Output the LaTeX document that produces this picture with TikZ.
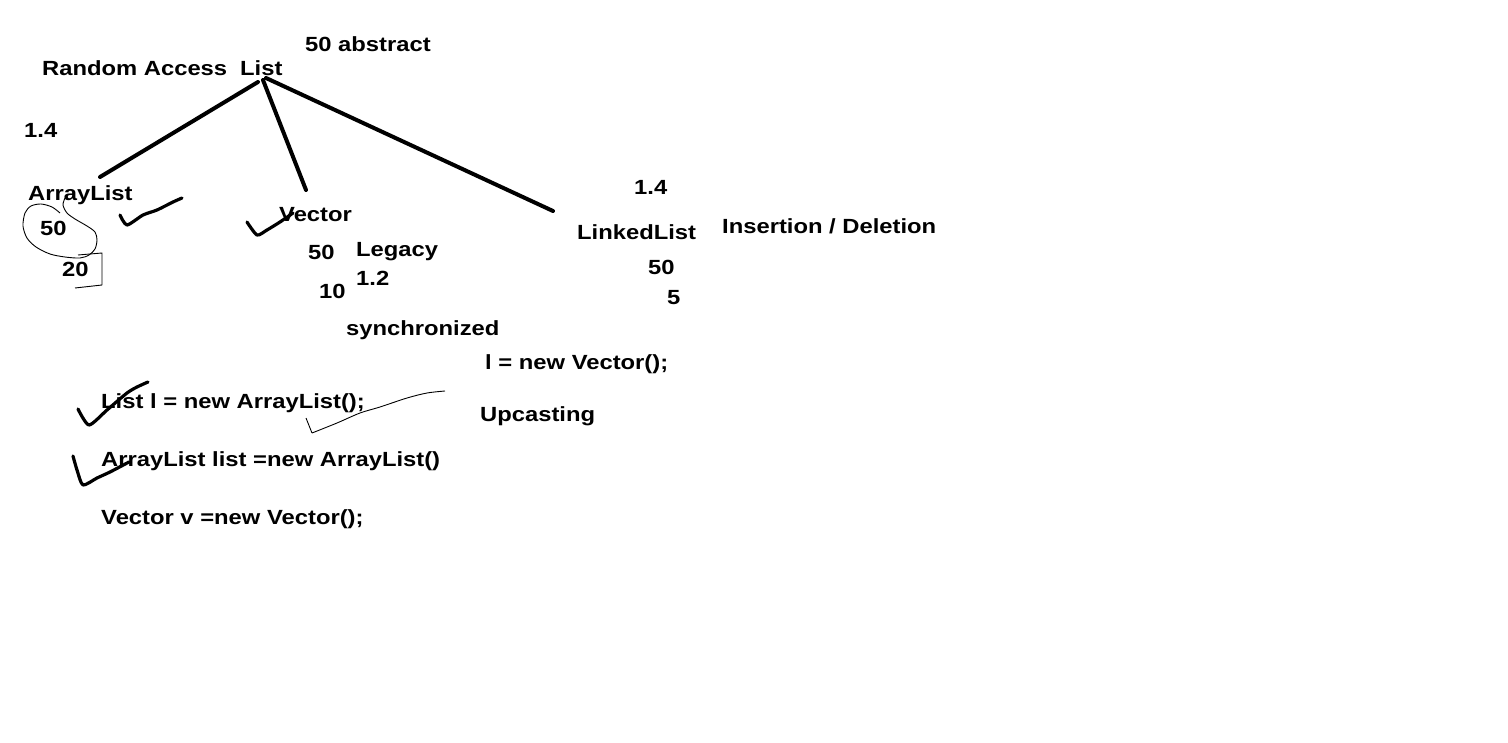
\documentclass[tikz,border=0pt]{standalone}
\usepackage{fontspec}
\newfontfamily\labfont{Liberation Sans}[FakeStretch=1.16]
\begin{document}
\begin{tikzpicture}[x=1pt,y=-1pt,
  lab/.style={anchor=base west, inner sep=0pt, font=\labfont\bfseries\fontsize{20.5}{24}\selectfont},
  branch/.style={line width=4pt, line cap=round},
  tick/.style={line width=3.2pt, line cap=round, line join=round},
  pen/.style={line width=0.9pt, line join=round}]
\fill[white] (0,0) rectangle (1508,742);
\useasboundingbox (0,0) rectangle (1508,742);
% texts
\node[lab] (abs) at (305,51) {50 abstract};
\node[lab] (ra) at (42,75) {Random Access};
\node[lab] (list) at (240,75) {List};
\node[lab] (v14a) at (24,137) {1.4};
\node[lab] (al) at (28,200) {ArrayList};
\node[lab] (vec) at (279,221) {Vector};
\node[lab] (v14b) at (634,194) {1.4};
\node[lab] (ll) at (577,239) {LinkedList};
\node[lab] (ins) at (722,233) {Insertion / Deletion};
\node[lab] (n50a) at (40,235) {50};
\node[lab] (n20) at (62,276) {20};
\node[lab] (n50b) at (308,259) {50};
\node[lab] (leg) at (356,256) {Legacy};
\node[lab] (v12) at (356,285) {1.2};
\node[lab] (n10) at (319,298) {10};
\node[lab] (n50c) at (648,274) {50};
\node[lab] (n5) at (667,304) {5};
\node[lab] (syn) at (346,335) {synchronized};
\node[lab] (lv) at (485,369) {l = new Vector();};
\node[lab] (code1) at (101,408) {List l = new ArrayList();};
\node[lab] (up) at (480,421) {Upcasting};
\node[lab] (code2) at (101,466) {ArrayList list =new ArrayList()};
\node[lab] (code3) at (101,524) {Vector v =new Vector();};
% branch ends
\coordinate (rootA) at (258,82);
\coordinate (rootB) at (263,80);
\coordinate (rootC) at (266,78);
\coordinate (endA) at (100,177);
\coordinate (endB) at (306,190);
\coordinate (endC) at (553,211);
\draw[branch] (rootA) -- (endA);
\draw[branch] (rootB) -- (endB);
\draw[branch] (rootC) -- (endC);
% check marks
\draw[tick] plot[smooth, tension=0.4] coordinates {(120,215) (127,225) (143,215) (157,210) (173,202) (182,198)};
\draw[tick] plot[smooth, tension=0.4] coordinates {(247,222) (257,235) (267,230) (280,222) (293,213)};
\draw[tick] plot[smooth, tension=0.4] coordinates {(78,409) (89,425) (107,410) (127,393) (137,387) (148,382)};
\draw[tick] plot[smooth, tension=0.4] coordinates {(73,456) (77,470) (83,485) (97,478) (110,472) (129,462)};
% thin pen strokes
\draw[pen] plot[smooth] coordinates {(65,198) (63,205) (67,213) (75,219) (87,226) (95,232) (97,240) (95,249) (89,255) (80,258) (65,257) (50,254) (36,247) (27,238) (23,226) (25,213) (31,206) (41,204) (52,207) (60,213)};
\draw[pen] (78,255) -- (102,253) -- (102,285) -- (75,288);
\draw[pen] (306,418) -- (312,433) plot[smooth] coordinates {(312,433) (337,423) (360,413) (380,407) (407,398) (427,393) (445,391)};
\end{tikzpicture}
\end{document}
